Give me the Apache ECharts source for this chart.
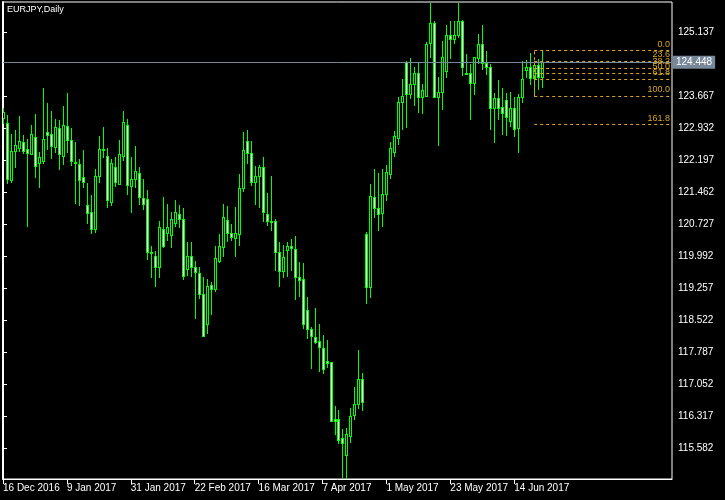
<!DOCTYPE html>
<html>
<head>
<meta charset="utf-8">
<script src="https://cdn.jsdelivr.net/npm/echarts/dist/echarts.min.js"></script>
<style>html,body{margin:0;padding:0;background:#000;}#c{width:725px;height:500px;}</style>
</head>
<body>
<div id="c"></div>
<script>
const opens = [123.166,123.044,121.741,122.401,122.476,122.607,122.447,122.332,122.722,122.125,122.185,122.837,122.791,122.493,122.929,122.286,122.975,122.653,122.155,122.102,121.803,121.160,120.999,120.623,121.840,122.437,122.286,121.243,122.033,121.656,122.300,122.998,121.610,121.757,121.895,121.321,121.305,120.081,119.989,119.750,120.616,120.524,120.485,120.761,120.953,120.839,119.704,119.989,119.736,119.598,119.116,118.441,119.323,119.245,119.888,120.195,120.816,120.517,120.402,120.508,121.565,122.630,122.355,121.702,121.826,122.033,120.953,120.800,120.793,120.081,119.658,120.127,120.218,120.156,119.513,119.467,118.748,118.319,118.128,118.036,117.876,117.584,117.554,116.252,116.245,115.808,115.432,115.868,116.337,116.589,117.164,120.501,119.277,121.344,121.091,120.976,121.413,121.872,122.391,122.713,123.526,124.459,123.710,123.940,124.192,123.655,123.678,124.881,125.341,123.655,123.756,124.252,125.065,124.973,125.065,125.387,124.206,124.192,123.963,124.537,124.865,124.422,124.330,123.388,123.618,123.411,123.572,123.104,123.388,122.929,123.641,124.261,124.330,124.077,124.376,124.100];
const closes = [123.303,121.771,122.401,122.538,122.630,122.401,122.355,122.791,122.056,122.263,122.676,122.768,122.516,122.952,122.332,122.998,122.653,122.171,122.132,121.735,121.702,120.990,120.623,121.840,122.447,122.453,121.289,122.132,121.702,122.339,123.067,121.633,121.764,121.941,121.344,121.197,120.094,120.058,119.736,120.662,120.232,120.662,120.846,120.999,120.839,119.543,119.989,119.750,119.635,119.130,118.165,119.300,119.245,119.943,120.218,120.885,120.517,120.425,120.517,121.551,122.424,122.355,121.702,121.826,122.033,121.013,120.793,120.777,120.081,119.658,119.973,120.218,120.173,119.520,119.451,118.427,118.326,118.165,118.027,117.912,117.407,117.545,116.213,116.213,115.769,115.693,115.907,116.320,116.589,117.164,116.649,119.277,121.374,121.091,120.953,121.413,121.918,122.470,122.745,123.526,123.664,123.710,123.940,124.192,123.655,123.809,124.865,125.341,123.641,123.756,124.574,125.065,124.973,125.065,125.387,124.330,124.183,123.963,124.560,124.865,124.422,124.330,123.388,123.618,123.388,123.274,123.182,123.388,122.913,123.641,124.054,124.330,124.077,124.376,124.100,124.448];
const lows = [123.051,121.679,121.702,122.047,122.414,122.368,120.692,122.332,121.817,121.587,122.139,122.453,122.254,122.378,122.001,122.116,122.391,122.093,121.220,121.174,121.587,120.761,120.531,120.554,121.702,122.277,121.128,121.174,121.604,121.656,122.208,121.427,121.013,121.587,121.190,121.075,119.934,119.520,119.313,119.520,120.209,120.363,120.209,120.692,120.662,119.467,119.552,119.536,118.572,119.031,118.165,118.234,118.670,119.192,119.858,120.003,120.333,120.363,120.003,120.255,121.489,122.139,121.627,121.197,121.128,120.806,120.715,120.600,119.686,119.313,119.520,119.536,119.674,119.015,119.077,118.335,118.119,117.430,117.997,117.354,117.315,117.446,116.213,115.907,115.693,114.926,114.850,115.723,116.258,116.511,116.465,118.923,119.061,120.885,120.593,120.685,121.282,121.794,122.300,122.575,122.913,122.966,123.632,123.464,123.310,123.287,123.678,124.574,123.641,122.545,123.372,124.114,124.551,124.895,125.033,124.153,124.183,123.149,123.724,124.422,124.298,124.183,122.913,122.621,123.143,122.805,122.782,122.989,122.759,122.391,123.540,124.100,123.940,123.733,123.825,123.871];
const highs = [123.395,123.234,122.798,122.890,123.211,122.775,122.676,122.998,123.257,122.385,123.855,123.510,123.326,123.143,123.113,123.441,123.740,122.929,122.614,122.217,122.430,121.666,121.397,121.987,122.752,122.959,122.476,122.224,122.270,122.660,123.326,123.143,122.270,122.522,122.033,121.764,121.512,120.225,120.104,120.800,121.351,121.190,121.006,121.282,121.167,121.098,120.317,120.317,119.881,119.743,119.513,119.467,119.398,120.225,120.501,121.190,121.144,120.731,121.121,121.879,122.844,122.890,122.637,122.063,122.086,122.270,121.443,121.833,120.839,120.310,120.248,120.310,120.386,120.462,119.858,119.835,119.054,118.365,118.801,118.434,118.181,118.066,117.554,116.550,116.458,116.022,116.038,116.504,116.987,117.836,117.308,120.540,121.650,121.994,121.902,121.994,122.086,122.614,122.867,123.648,124.061,124.475,124.537,124.344,124.436,123.947,124.911,125.814,125.401,124.100,124.927,125.302,125.394,125.401,125.814,125.417,124.636,124.399,124.560,125.095,125.302,124.705,124.399,123.733,124.038,123.855,123.740,123.763,123.648,123.717,124.475,124.498,124.659,124.452,124.514,124.705];

const yTicks = [115.582,116.317,117.052,117.787,118.522,119.257,119.992,120.727,121.462,122.197,122.932,123.667,125.137];
const xTickIdx = [0,16,32,48,64,80,96,112,128];
const bidPrice = 124.448;
const fibHigh = 124.718;
const fibLow = 123.667;
const fibRatios = [0, 0.236, 0.382, 0.5, 0.618, 1.0, 1.618];
const fibNames = ['0.0','23.6','38.2','50.0','61.8','100.0','161.8'];
const fibStartBar = 133;

const months = ['Jan','Feb','Mar','Apr','May','Jun','Jul','Aug','Sep','Oct','Nov','Dec'];
const categories = [];
let t = Date.UTC(2016, 11, 16);
while (categories.length < opens.length) {
  const dt = new Date(t);
  const wd = dt.getUTCDay();
  if (wd !== 0 && wd !== 6) categories.push(dt.getUTCDate() + ' ' + months[dt.getUTCMonth()] + ' ' + dt.getUTCFullYear());
  t += 86400000;
}
const xMax = 167.5;

const candles = opens.map((o, i) => [i, o, closes[i], lows[i], highs[i]]);
const fibColor = '#DAA520';
const green = '#00ff00';

const markData = [];
fibRatios.forEach((r, k) => {
  const p = fibHigh - r * (fibHigh - fibLow);
  markData.push([
    {name: fibNames[k], coord: [fibStartBar, p],
     lineStyle: {color: fibColor, type: [3, 3], width: 1},
     label: {show: true, position: 'insideEndTop', formatter: '{b}', color: fibColor,
             fontFamily: 'Liberation Sans', fontSize: 9, distance: [2, 2]}},
    {coord: [xMax, p]}
  ]);
});
markData.push([
  {coord: [fibStartBar, fibLow], lineStyle: {color: fibColor, type: [3, 3], width: 1}, label: {show: false}},
  {coord: [fibStartBar, fibHigh]}
]);
markData.push({
  yAxis: bidPrice,
  lineStyle: {color: '#778899', type: 'solid', width: 1},
  label: {show: true, position: 'end', formatter: bidPrice.toFixed(3), color: '#ffffff',
          backgroundColor: '#778899', fontFamily: 'Liberation Sans', fontSize: 10,
          padding: [2, 3, 1, 3], distance: 1}
});

function renderCandle(params, api) {
  const i = api.value(0), o = api.value(1), c = api.value(2), l = api.value(3), h = api.value(4);
  const pO = api.coord([i, o]), pC = api.coord([i, c]), pL = api.coord([i, l]), pH = api.coord([i, h]);
  const X = Math.round(pO[0]);
  const yTop = Math.round(Math.min(pO[1], pC[1]));
  const yBot = Math.round(Math.max(pO[1], pC[1]));
  const yH = Math.round(pH[1]), yL = Math.round(pL[1]);
  const children = [];
  children.push({type: 'rect', shape: {x: X, y: yH, width: 1, height: Math.max(1, yL - yH + 1)},
                 style: {fill: green}});
  children.push({type: 'rect', shape: {x: X - 1, y: yTop, width: 3, height: yBot - yTop + 1},
                 style: {fill: green}});
  if (yBot - yTop >= 2) {
    children.push({type: 'rect', shape: {x: X, y: yTop + 1, width: 1, height: yBot - yTop - 1},
                   style: {fill: c < o ? '#ffffff' : '#000000'}});
  }
  return {type: 'group', children: children};
}

const chart = echarts.init(document.getElementById('c'), null, {renderer: 'canvas'});
chart.setOption({
  backgroundColor: '#000000',
  animation: false,
  grid: {left: 2, right: 53, top: 2, bottom: 21, show: true, borderColor: '#ffffff', borderWidth: 1, backgroundColor: 'transparent'},
  xAxis: {
    type: 'value', min: 0, max: xMax,
    axisLine: {show: true, lineStyle: {color: '#ffffff', width: 1}},
    axisTick: {show: true, customValues: xTickIdx, length: 5, lineStyle: {color: '#ffffff'}},
    axisLabel: {show: true, customValues: xTickIdx, formatter: (v) => categories[Math.round(v)] || '',
                align: 'left', margin: 4, color: '#ffffff', fontFamily: 'Liberation Sans', fontSize: 10},
    splitLine: {show: false}
  },
  yAxis: {
    type: 'value', position: 'right', min: 114.877, max: 125.833,
    axisLine: {show: true, lineStyle: {color: '#ffffff', width: 2}},
    axisTick: {show: true, customValues: yTicks, length: 4, lineStyle: {color: '#ffffff'}},
    axisLabel: {show: true, customValues: yTicks, formatter: (v) => v.toFixed(3), margin: 6,
                color: '#ffffff', fontFamily: 'Liberation Sans', fontSize: 10},
    splitLine: {show: false}
  },
  graphic: [{type: 'text', left: 7, top: 5, style: {text: 'EURJPY,Daily', fill: '#ffffff', font: '9px "Liberation Sans"'}}],
  series: [{
    type: 'custom', data: candles, renderItem: renderCandle, clip: true,
    encode: {x: 0, y: [1, 2, 3, 4]},
    markLine: {silent: true, symbol: ['none', 'none'], animation: false, data: markData}
  }]
});
</script>
</body>
</html>
